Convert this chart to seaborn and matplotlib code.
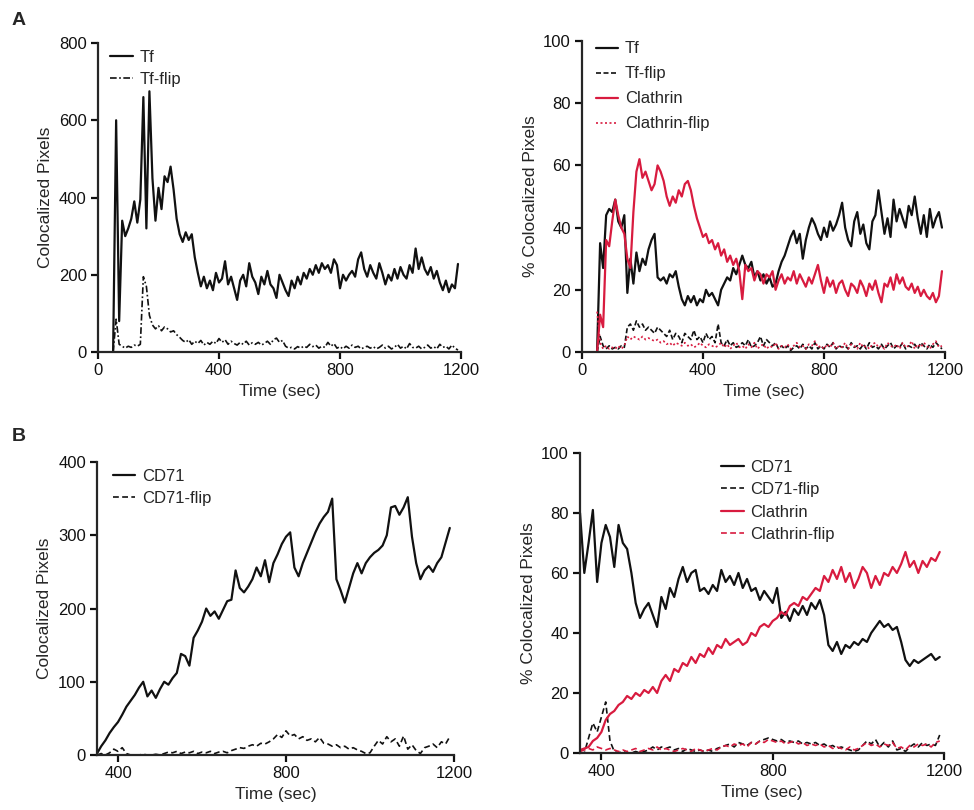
import numpy as np
import pandas as pd
import matplotlib
matplotlib.use("Agg")
import matplotlib.pyplot as plt
import seaborn as sns

# ---------------- data ----------------
# Panel A, left: colocalized pixels, samples every 10 s starting at 50 s
tf_start = 50
tf_pixels = [0, 600, 80, 340, 300, 320, 345, 390, 335, 395, 660, 320, 675, 450, 340, 425, 370, 455, 440, 480,
             420, 345, 305, 285, 310, 290, 305, 245, 205, 170, 195, 165, 185, 160, 205, 180, 190, 235, 175, 195,
             165, 135, 185, 200, 170, 230, 195, 180, 150, 195, 175, 210, 175, 165, 140, 200, 180, 160, 145, 185,
             165, 195, 175, 205, 190, 215, 200, 225, 205, 230, 215, 225, 205, 240, 225, 165, 200, 185, 200, 210,
             195, 240, 258, 215, 195, 225, 205, 190, 230, 205, 175, 200, 185, 215, 190, 220, 200, 190, 225, 205,
             268, 215, 245, 215, 200, 220, 190, 210, 180, 160, 185, 155, 175, 165, 228]
tf_flip_pixels = [0, 85, 20, 15, 10, 15, 12, 18, 15, 20, 195, 170, 95, 70, 60, 68, 55, 65, 60, 52,
                  55, 45, 38, 30, 25, 32, 20, 28, 22, 30, 18, 25, 20, 28, 22, 35, 25, 32, 20, 28,
                  22, 18, 25, 20, 28, 18, 24, 20, 25, 18, 22, 28, 20, 32, 36, 25, 30, 15, 10, 12,
                  8, 14, 10, 15, 12, 20, 14, 18, 10, 15, 12, 25, 15, 22, 10, 14, 8, 15, 10, 18,
                  12, 15, 8, 12, 15, 10, 14, 8, 12, 18, 10, 15, 8, 12, 20, 10, 15, 8, 22, 12,
                  10, 15, 8, 12, 18, 10, 14, 8, 20, 12, 15, 8, 18, 10, 5]

# Panel A, right: % colocalized pixels, every 10 s starting at 50 s
tf_pct = [0, 35, 27, 44, 46, 45, 49, 42, 40, 44, 19, 30, 22, 32, 26, 30, 28, 33, 36, 38,
          24, 23, 24, 22, 25, 24, 26, 21, 17, 15, 18, 16, 18, 15, 17, 16, 20, 18, 19, 17,
          15, 20, 22, 24, 23, 27, 25, 28, 31, 28, 27, 29, 24, 26, 23, 25, 22, 24, 21, 22,
          26, 29, 31, 34, 37, 39, 35, 38, 30, 36, 40, 43, 41, 38, 36, 40, 37, 42, 39, 41,
          44, 48, 40, 36, 34, 42, 45, 38, 41, 35, 33, 42, 44, 52, 45, 38, 43, 37, 49, 42,
          46, 43, 40, 47, 44, 50, 43, 38, 44, 37, 46, 40, 43, 45, 40]
tf_flip_pct = [0, 5, 2, 1, 2, 1, 1.5, 1, 2, 1.5, 8, 9, 7, 10, 8, 9, 7, 8, 7, 6,
               8, 7, 6, 5, 7, 4, 6, 5, 3, 6, 5, 4, 7, 4, 5, 3, 6, 4, 5, 3,
               9, 3, 2, 4, 2, 3, 1.5, 2, 3, 2, 4, 1.5, 2, 3, 5, 2, 4, 3, 2, 3,
               1, 2, 1, 2, 0.5, 1.5, 2, 1, 2.5, 1, 2, 1, 3, 1, 2, 1, 2.5, 1.5, 3, 1,
               2, 1.5, 2, 1, 3, 1.5, 2, 1, 2.5, 1, 3, 1.5, 2, 1, 2.5, 1, 2, 3, 1, 2,
               1.5, 3, 1, 2, 1.5, 2.5, 1, 3, 2, 1, 2.5, 1.5, 3, 2, 1]
clathrin_pct_a = [0, 12, 8, 36, 34, 42, 49, 44, 40, 38, 30, 27, 45, 58, 62, 56, 58, 55, 52, 54,
                  60, 58, 55, 50, 47, 50, 48, 52, 50, 54, 55, 52, 47, 43, 40, 37, 38, 35, 36, 33,
                  35, 31, 33, 29, 31, 28, 30, 26, 17, 28, 26, 27, 23, 26, 25, 22, 25, 24, 26, 20,
                  23, 25, 22, 24, 23, 26, 22, 25, 23, 21, 24, 22, 25, 28, 23, 19, 24, 21, 23, 19,
                  22, 23, 20, 18, 22, 21, 19, 23, 21, 18, 22, 20, 23, 19, 16, 22, 21, 24, 20, 25,
                  22, 24, 21, 20, 22, 19, 21, 18, 20, 18, 17, 19, 16, 18, 26]
clathrin_flip_pct_a = [13, 3, 1, 2, 1, 1.5, 1, 2, 1, 2, 5, 4, 5, 4.5, 4, 5, 4, 4.5, 4, 3.5,
                       4, 3, 3.5, 2.5, 3, 2, 3, 2.5, 2, 3, 2, 2.5, 1.5, 2, 3, 2, 1.5, 2.5, 2, 1.5,
                       2, 3, 1.5, 2.5, 1, 2, 3, 1.5, 2, 1, 2.5, 1.5, 3, 1, 2, 2.5, 1, 2, 1.5, 3,
                       1, 2, 1.5, 2.5, 1, 2, 3, 1.5, 2, 1, 2.5, 2, 3.5, 1.5, 2, 1, 2.5, 1.5, 3, 1,
                       2, 1.5, 3, 1, 2.5, 2, 1, 3, 1.5, 2, 1, 2.5, 3, 1.5, 2, 1, 3, 2, 1.5, 2.5,
                       1, 3, 1.5, 2, 3.5, 1, 2.5, 1.5, 3, 2, 1, 2.5, 3.5, 1.5, 2]

# Panel B, left: colocalized pixels, every 10 s starting at 350 s
cd71_start = 350
cd71_pixels = [2, 12, 20, 30, 38, 45, 55, 66, 74, 82, 92, 100, 80, 88, 78, 90, 100, 96, 105, 112,
               138, 135, 122, 160, 170, 182, 200, 190, 196, 186, 198, 210, 212, 252, 228, 222, 230, 240, 256, 244,
               266, 236, 262, 274, 288, 298, 304, 256, 244, 262, 276, 290, 304, 316, 325, 332, 350, 240, 225, 208,
               228, 248, 262, 248, 262, 270, 276, 280, 286, 300, 338, 340, 328, 338, 352, 298, 262, 240, 252, 258,
               250, 262, 270, 290, 310]
cd71_flip_pixels = [0, 2, 0, 3, 8, 5, 10, 2, 0, 0, 0, 1, 0, 0, 1, 0, 2, 4, 3, 5,
                    2, 4, 3, 5, 2, 4, 3, 5, 2, 4, 5, 3, 6, 8, 10, 9, 12, 14, 12, 16,
                    15, 18, 22, 28, 24, 33, 26, 28, 22, 25, 20, 22, 18, 24, 16, 15, 12, 14, 10, 12,
                    8, 10, 7, 5, 2, 3, 12, 20, 15, 25, 18, 22, 12, 26, 8, 14, 6, 2, 10, 12,
                    15, 10, 18, 15, 25]

# Panel B, right: % colocalized pixels, every 10 s starting at 350 s
cd71_pct = [80, 60, 70, 81, 57, 70, 76, 72, 62, 76, 70, 68, 60, 50, 45, 48, 50, 46, 42, 52,
            48, 55, 52, 58, 62, 57, 60, 61, 54, 55, 53, 56, 54, 61, 57, 59, 56, 60, 55, 58,
            54, 55, 51, 54, 52, 50, 55, 45, 47, 44, 48, 46, 49, 46, 50, 48, 51, 46, 36, 34,
            37, 33, 36, 35, 37, 36, 38, 37, 40, 42, 44, 42, 43, 41, 42, 37, 31, 29, 31, 30,
            31, 32, 33, 31, 32]
cd71_flip_pct = [0, 0, 5, 10, 7, 12, 17, 4, 0.5, 0, 0.5, 0, 0, 0.5, 0, 0.5, 1, 2, 1, 2,
                 1.5, 2, 1, 1.5, 0.5, 1.5, 1, 0.5, 1, 0.5, 1, 0.5, 1.5, 2, 2.5, 3, 2, 3.5, 3, 2.5,
                 3.5, 3, 4, 4.5, 5, 4.5, 4, 4.5, 3.5, 4, 3.5, 4, 3, 3.5, 3, 3.5, 2.5, 3, 2, 2.5,
                 1.5, 2, 1.5, 1, 0.5, 1, 2.5, 4, 3, 4.5, 2, 3.5, 2, 4, 1, 1.5, 0.5, 2, 3, 2,
                 3.5, 2.5, 3, 2.5, 6]
clathrin_pct_b = [1, 1.5, 2, 4, 5, 7, 11, 13, 14, 16, 17, 19, 18, 20, 19, 21, 20, 22, 20, 24,
                  26, 24, 28, 27, 30, 29, 32, 30, 33, 32, 35, 33, 36, 35, 38, 36, 37, 38, 36, 37,
                  40, 39, 42, 43, 42, 44, 45, 47, 46, 49, 50, 49, 52, 51, 53, 55, 54, 59, 57, 61,
                  58, 62, 57, 60, 55, 58, 62, 60, 55, 59, 56, 60, 59, 62, 60, 63, 67, 62, 64, 60,
                  64, 62, 65, 64, 67]
clathrin_flip_pct_b = [0.5, 1, 1.5, 1, 2, 1.5, 1, 1.5, 1, 0.5, 1, 0.5, 1, 1.5, 0.5, 1, 1.5, 1, 2, 1,
                       1.5, 1, 0.5, 1, 1.5, 1, 0.5, 1.5, 1, 0.5, 1, 1.5, 1, 2, 2.5, 2, 3, 2.5, 3, 2,
                       3.5, 3, 4, 3.5, 4.5, 4, 3.5, 4, 3, 3.5, 4, 3, 3.5, 2.5, 3, 2.5, 3, 2, 2.5, 1.5,
                       2, 1.5, 1, 2, 1, 1.5, 2.5, 3.5, 2.5, 3, 2, 3, 2.5, 3.5, 1.5, 2, 1, 2.5, 2, 3,
                       2.5, 3, 2, 3.5, 4]

# ---------------- style ----------------
sns.set_style("ticks")
plt.rcParams["font.family"] = ["Liberation Sans", "DejaVu Sans"]
plt.rcParams["axes.linewidth"] = 1.6
plt.rcParams["xtick.major.width"] = 1.6
plt.rcParams["ytick.major.width"] = 1.6
plt.rcParams["xtick.major.size"] = 5
plt.rcParams["ytick.major.size"] = 5
plt.rcParams["xtick.labelsize"] = 12
plt.rcParams["ytick.labelsize"] = 12
plt.rcParams["axes.labelsize"] = 12.5

RED = "#d81b3f"
BLACK = "#111111"


def series(start, vals):
    t = start + 10 * np.arange(len(vals))
    return pd.DataFrame({"t": t, "v": vals})


fig = plt.figure(figsize=(9.74, 8.10), dpi=100)
fig.patch.set_facecolor("white")

axA1 = fig.add_axes([0.1006, 0.5654, 0.3727, 0.3815])
axA2 = fig.add_axes([0.5975, 0.5654, 0.3727, 0.3840])
axB1 = fig.add_axes([0.0996, 0.0679, 0.3665, 0.3617])
axB2 = fig.add_axes([0.5955, 0.0704, 0.3737, 0.3704])

LW = 1.6
LWF = 1.2

# Panel A left
sns.lineplot(data=series(tf_start, tf_pixels), x="t", y="v", ax=axA1, color=BLACK, lw=LW, label="Tf")
sns.lineplot(data=series(tf_start, tf_flip_pixels), x="t", y="v", ax=axA1, color=BLACK, lw=LWF,
             linestyle=(0, (4, 1.5, 1, 1.5)), label="Tf-flip")
axA1.set_xlim(0, 1200)
axA1.set_ylim(0, 800)
axA1.set_xticks([0, 400, 800, 1200])
axA1.set_yticks([0, 200, 400, 600, 800])
axA1.set_ylabel("Colocalized Pixels")

# Panel A right
sns.lineplot(data=series(tf_start, tf_pct), x="t", y="v", ax=axA2, color=BLACK, lw=LW, label="Tf")
sns.lineplot(data=series(tf_start, tf_flip_pct), x="t", y="v", ax=axA2, color=BLACK, lw=LWF,
             linestyle=(0, (3, 1.5)), label="Tf-flip")
sns.lineplot(data=series(tf_start, clathrin_pct_a), x="t", y="v", ax=axA2, color=RED, lw=LW, label="Clathrin")
sns.lineplot(data=series(tf_start, clathrin_flip_pct_a), x="t", y="v", ax=axA2, color=RED, lw=LWF,
             linestyle=(0, (1.2, 1.5)), label="Clathrin-flip")
axA2.set_xlim(0, 1200)
axA2.set_ylim(0, 100)
axA2.set_xticks([0, 400, 800, 1200])
axA2.set_yticks([0, 20, 40, 60, 80, 100])
axA2.set_ylabel("% Colocalized Pixels")

# Panel B left
sns.lineplot(data=series(cd71_start, cd71_pixels), x="t", y="v", ax=axB1, color=BLACK, lw=LW, label="CD71")
sns.lineplot(data=series(cd71_start, cd71_flip_pixels), x="t", y="v", ax=axB1, color=BLACK, lw=LWF,
             linestyle=(0, (3.5, 2)), label="CD71-flip")
axB1.set_xlim(350, 1200)
axB1.set_ylim(0, 400)
axB1.set_xticks([400, 800, 1200])
axB1.set_yticks([0, 100, 200, 300, 400])
axB1.set_ylabel("Colocalized Pixels")

# Panel B right
sns.lineplot(data=series(cd71_start, cd71_pct), x="t", y="v", ax=axB2, color=BLACK, lw=LW, label="CD71")
sns.lineplot(data=series(cd71_start, cd71_flip_pct), x="t", y="v", ax=axB2, color=BLACK, lw=LWF,
             linestyle=(0, (3.5, 2)), label="CD71-flip")
sns.lineplot(data=series(cd71_start, clathrin_pct_b), x="t", y="v", ax=axB2, color=RED, lw=LW, label="Clathrin")
sns.lineplot(data=series(cd71_start, clathrin_flip_pct_b), x="t", y="v", ax=axB2, color=RED, lw=LWF,
             linestyle=(0, (3.5, 2)), label="Clathrin-flip")
axB2.set_xlim(350, 1200)
axB2.set_ylim(0, 100)
axB2.set_xticks([400, 800, 1200])
axB2.set_yticks([0, 20, 40, 60, 80, 100])
axB2.set_ylabel("% Colocalized Pixels")

for ax in (axA1, axA2, axB1, axB2):
    ax.set_xlabel("Time (sec)")
    sns.despine(ax=ax)
    ax.tick_params(direction="out", colors="#111111", pad=3)
    ax.set_facecolor("white")

leg_kw = dict(frameon=False, fontsize=12, handlelength=1.35, handletextpad=0.4,
              borderaxespad=0.0)
axA1.legend(loc="upper left", bbox_to_anchor=(0.015, 1.0), labelspacing=0.45, **leg_kw)
axA2.legend(loc="upper left", bbox_to_anchor=(0.02, 1.02), labelspacing=0.6, **leg_kw)
axB1.legend(loc="upper left", bbox_to_anchor=(0.025, 1.0), labelspacing=0.45, **leg_kw)
axB2.legend(loc="upper left", bbox_to_anchor=(0.37, 1.0), labelspacing=0.45, **leg_kw)

fig.text(0.012, 0.975, "A", fontsize=14, fontweight="bold", va="center", ha="left")
fig.text(0.012, 0.461, "B", fontsize=14, fontweight="bold", va="center", ha="left")

fig.savefig("out.png", dpi=100, facecolor="white")
